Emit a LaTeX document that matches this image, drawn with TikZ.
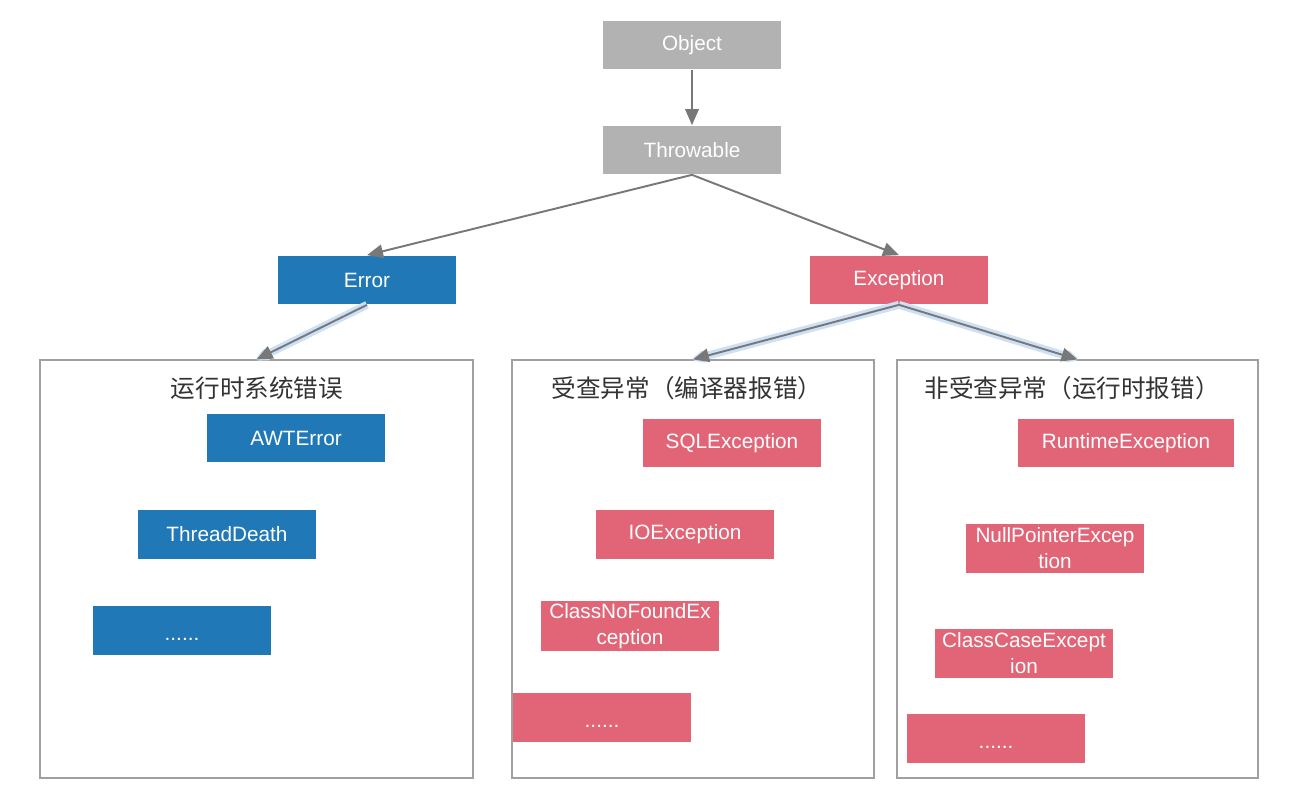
\documentclass[tikz,border=0pt]{standalone}
\usepackage{fontspec}
\setmainfont{Liberation Sans}
\newfontfamily\cjk{Noto Sans CJK SC}
\usetikzlibrary{arrows.meta}
\definecolor{objgray}{RGB}{178,178,178}
\definecolor{errblue}{RGB}{33,120,182}
\definecolor{excred}{RGB}{225,101,118}
\definecolor{linegray}{RGB}{120,120,120}
\definecolor{glow}{RGB}{205,224,245}
\definecolor{framegray}{RGB}{160,160,160}
\newcommand{\moredots}{\raisebox{-6pt}[0pt][0pt]{......}}

\begin{document}
\begin{tikzpicture}[x=0.02cm,y=-0.02cm,
    box/.style={minimum width=3.55cm,minimum height=0.98cm,inner sep=1pt,
        text=white,font=\fontsize{11.8pt}{15pt}\selectfont,align=center},
    graybox/.style={box,fill=objgray},
    bluebox/.style={box,fill=errblue},
    redbox/.style={box,fill=excred},
    frame/.style={draw=framegray,line width=0.7pt,minimum height=8.36cm},
    title/.style={text=black!80,font=\cjk\fontsize{14pt}{16pt}\selectfont},
    link/.style={draw=linegray,line width=1.1pt,-{Triangle[length=0.32cm,width=0.27cm]}},
    hilink/.style={link,preaction={draw=glow,line width=4.5pt,
        -{Triangle[length=0.32cm,width=0.27cm,line width=3pt,round]}}}]
    \useasboundingbox (0,0) rectangle (1300,800);
    % top of the tree
    \node[graybox] (object) at (692,45) {Object};
    \node[graybox] (throwable) at (692,150) {Throwable};
    \node[bluebox] (error) at (367,280) {Error};
    \node[redbox] (exception) at (899,280) {Exception};
    % the three groups
    \node[frame,minimum width=8.66cm] (sysgrp) at (256.5,569) {};
    \node[frame,minimum width=7.24cm] (chkgrp) at (693,569) {};
    \node[frame,minimum width=7.22cm] (unchkgrp) at (1077.5,569) {};
    \node[title] (systitle) at (257,388) {运行时系统错误};
    \node[title] (chktitle) at (687,388) {受查异常（编译器报错）};
    \node[title] (unchktitle) at (1072,388) {非受查异常（运行时报错）};
    % errors
    \node[bluebox] (awterror) at (296,438) {AWTError};
    \node[bluebox] (threaddeath) at (227,534) {ThreadDeath};
    \node[bluebox] (moreerr) at (182,630) {\moredots};
    % checked
    \node[redbox] (sqlexc) at (732,443) {SQLException};
    \node[redbox] (ioexc) at (685,534) {IOException};
    \node[redbox] (cnfexc) at (630,626) {ClassNoFoundEx\\ception};
    \node[redbox] (morechk) at (602,717) {\moredots};
    % unchecked
    \node[redbox,minimum width=4.32cm] (runtimeexc) at (1126,443) {RuntimeException};
    \node[redbox] (npexc) at (1055,548) {NullPointerExcep\\tion};
    \node[redbox] (ccexc) at (1024,653) {ClassCaseExcept\\ion};
    \node[redbox] (moreunchk) at (996,738) {\moredots};
    % links
    \draw[link] (object) -- (throwable);
    \draw[link] (throwable.south) -- (error.north);
    \draw[link] (throwable.south) -- (exception.north);
    \draw[hilink] (error.south) -- (sysgrp.north);
    \draw[hilink] (exception.south) -- (chkgrp.north);
    \draw[hilink] (exception.south) -- (unchkgrp.north);
\end{tikzpicture}
\end{document}
